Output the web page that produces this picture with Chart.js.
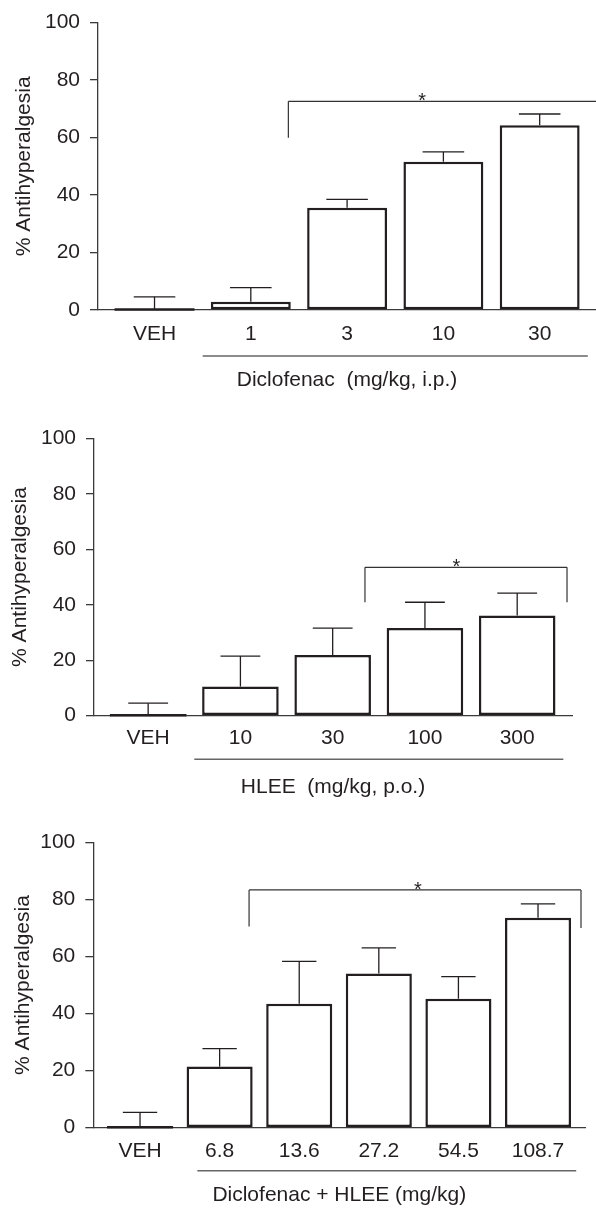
<!DOCTYPE html>
<html>
<head>
<meta charset="utf-8">
<script src="https://cdn.jsdelivr.net/npm/chart.js@4"></script>
<style>
  html, body { margin: 0; padding: 0; background: #fff; }
  body { width: 596px; height: 1208px; position: relative; overflow: hidden; }
  .panel { position: absolute; left: 0; width: 596px; }
</style>
</head>
<body>
<div class="panel" style="top:0;height:400px"><canvas id="c1"></canvas></div>
<div class="panel" style="top:400px;height:400px"><canvas id="c2"></canvas></div>
<div class="panel" style="top:800px;height:408px"><canvas id="c3"></canvas></div>
<script>
// diclofenac alone
const dicloDoses = ["VEH", "1", "3", "10", "30"];
const dicloMean = [0, 2.9, 35.6, 51.6, 64.3];
const dicloSem = [4.6, 4.9, 2.9, 3.4, 3.9];

// HLEE alone
const hleeDoses = ["VEH", "10", "30", "100", "300"];
const hleeMean = [0, 10.5, 21.9, 31.6, 36.1];
const hleeSem = [4.5, 11.0, 9.7, 9.3, 8.1];

// combination
const comboDoses = ["VEH", "6.8", "13.6", "27.2", "54.5", "108.7"];
const comboMean = [0, 21.4, 43.4, 54.0, 45.2, 73.6];
const comboSem = [5.4, 6.3, 14.9, 9.0, 7.7, 4.8];

const yTicks = [0, 20, 40, 60, 80, 100];

// significance brackets, in data units: [from, to, lineY, leftLegY, rightLegY, starX]
const dicloBracket = [1.39, 4.585, 72.6, 59.9, null, 2.78];
const hleeBracket = [2.35, 4.54, 53.5, 40.9, 40.9, 3.34];
const comboBracket = [1.37, 5.54, 83.3, 70.5, 70.0, 3.49];

// group underline under the dose labels
const dicloGroup = [0.5, 4.5];
const hleeGroup = [0.5, 4.5];
const comboGroup = [0.72, 5.48];

const INK = "#231f20";
const AXIS = "#3a3a3a";
const FONT = "'Liberation Sans', Arial, sans-serif";

function makeChart(id, o) {
  const extras = {
    id: "extras",
    afterDatasetsDraw(chart) {
      const ctx = chart.ctx;
      const xs = chart.scales.x;
      const ys = chart.scales.y;
      const bars = chart.getDatasetMeta(0).data;
      const line = (x1, y1, x2, y2) => {
        ctx.beginPath();
        ctx.moveTo(x1, y1);
        ctx.lineTo(x2, y2);
        ctx.stroke();
      };
      ctx.save();
      ctx.strokeStyle = INK;
      bars.forEach((b, i) => {
        const w = b.width;
        // a zero bar only shows as its outline on the axis
        if (o.mean[i] === 0) {
          ctx.lineWidth = 2.5;
          line(b.x - w / 2, b.base - 0.5, b.x + w / 2, b.base - 0.5);
        }
        const yTop = ys.getPixelForValue(o.mean[i] + o.sem[i]);
        ctx.lineWidth = 1.3;
        line(b.x, b.y, b.x, yTop);
        line(b.x - w * 0.26, yTop, b.x + w * 0.26, yTop);
      });

      // bracket + star
      const [bx0, bx1, by, bl0, bl1, sx] = o.bracket;
      const px0 = xs.getPixelForValue(bx0);
      const px1 = xs.getPixelForValue(bx1);
      const py = ys.getPixelForValue(by);
      ctx.strokeStyle = "#333";
      ctx.lineWidth = 1.2;
      line(px0, py, px1, py);
      if (bl0 !== null) line(px0, py, px0, ys.getPixelForValue(bl0));
      if (bl1 !== null) line(px1, py, px1, ys.getPixelForValue(bl1));
      ctx.fillStyle = INK;
      ctx.font = "20px " + FONT;
      ctx.textAlign = "center";
      ctx.textBaseline = "alphabetic";
      ctx.fillText("*", xs.getPixelForValue(sx), py + 6);

      // underline of the treated groups
      ctx.strokeStyle = "#666";
      ctx.lineWidth = 1.5;
      const uy = chart.chartArea.bottom + o.groupGap;
      line(xs.getPixelForValue(o.group[0]), uy, xs.getPixelForValue(o.group[1]), uy);
      ctx.restore();
    }
  };

  return new Chart(document.getElementById(id), {
    type: "bar",
    data: {
      datasets: [{
        data: o.mean.map((v, i) => ({ x: i, y: v })),
        backgroundColor: "#fff",
        borderColor: INK,
        borderWidth: 2.5,
        borderSkipped: false,
        barPercentage: 0.83,
        categoryPercentage: 1
      }]
    },
    options: {
      responsive: true,
      maintainAspectRatio: false,
      animation: false,
      layout: { padding: { top: o.top, right: o.right, left: 0, bottom: 0 } },
      plugins: { legend: { display: false }, tooltip: { enabled: false } },
      scales: {
        x: {
          type: "linear",
          min: -0.587,
          max: o.xMax,
          offset: false,
          afterBuildTicks: (s) => { s.ticks = o.labels.map((_, i) => ({ value: i })); },
          afterFit: (s) => { s.height = o.xHeight; },
          ticks: {
            callback: (v) => o.labels[v],
            color: INK,
            font: { size: 21, family: FONT },
            padding: o.tickPad,
            maxRotation: 0,
            autoSkip: false
          },
          grid: { display: false, drawTicks: false, offset: false },
          border: { color: AXIS, width: 1.3 },
          title: {
            display: true,
            text: o.title,
            color: INK,
            font: { size: 21, family: FONT },
            padding: { top: 0, bottom: o.titlePad }
          }
        },
        y: {
          min: 0,
          max: 100,
          afterBuildTicks: (s) => { s.ticks = yTicks.map((v) => ({ value: v })); },
          afterFit: (s) => { s.width = o.axisX; },
          ticks: { color: INK, font: { size: 21, family: FONT }, padding: 10 },
          grid: { drawOnChartArea: false, drawTicks: true, tickLength: 8, tickColor: AXIS, lineWidth: 1.3 },
          border: { color: AXIS, width: 1.3 },
          title: {
            display: true,
            text: "% Antihyperalgesia",
            color: INK,
            font: { size: 21, family: FONT },
            padding: { top: o.yTitlePad, bottom: 0 }
          }
        }
      }
    },
    plugins: [extras]
  });
}

makeChart("c1", {
  labels: dicloDoses, mean: dicloMean, sem: dicloSem,
  bracket: dicloBracket, group: dicloGroup,
  title: "Diclofenac  (mg/kg, i.p.)",
  top: 20.7, right: 0, axisX: 98, xHeight: 90, xMax: 4.585,
  tickPad: 12, titlePad: 7.4, yTitlePad: 11.4, groupGap: 46
});

makeChart("c2", {
  labels: hleeDoses, mean: hleeMean, sem: hleeSem,
  bracket: hleeBracket, group: hleeGroup,
  title: "HLEE  (mg/kg, p.o.)",
  top: 38.3, right: 24, axisX: 94, xHeight: 84.3, xMax: 4.594,
  tickPad: 10, titlePad: 0.4, yTitlePad: 7.4, groupGap: 43.6
});

makeChart("c3", {
  labels: comboDoses, mean: comboMean, sem: comboSem,
  bracket: comboBracket, group: comboGroup,
  title: "Diclofenac + HLEE (mg/kg)",
  top: 42.3, right: 10.7, axisX: 93.3, xHeight: 80.3, xMax: 5.594,
  tickPad: 11, titlePad: 0, yTitlePad: 11, groupGap: 43
});
</script>
</body>
</html>
